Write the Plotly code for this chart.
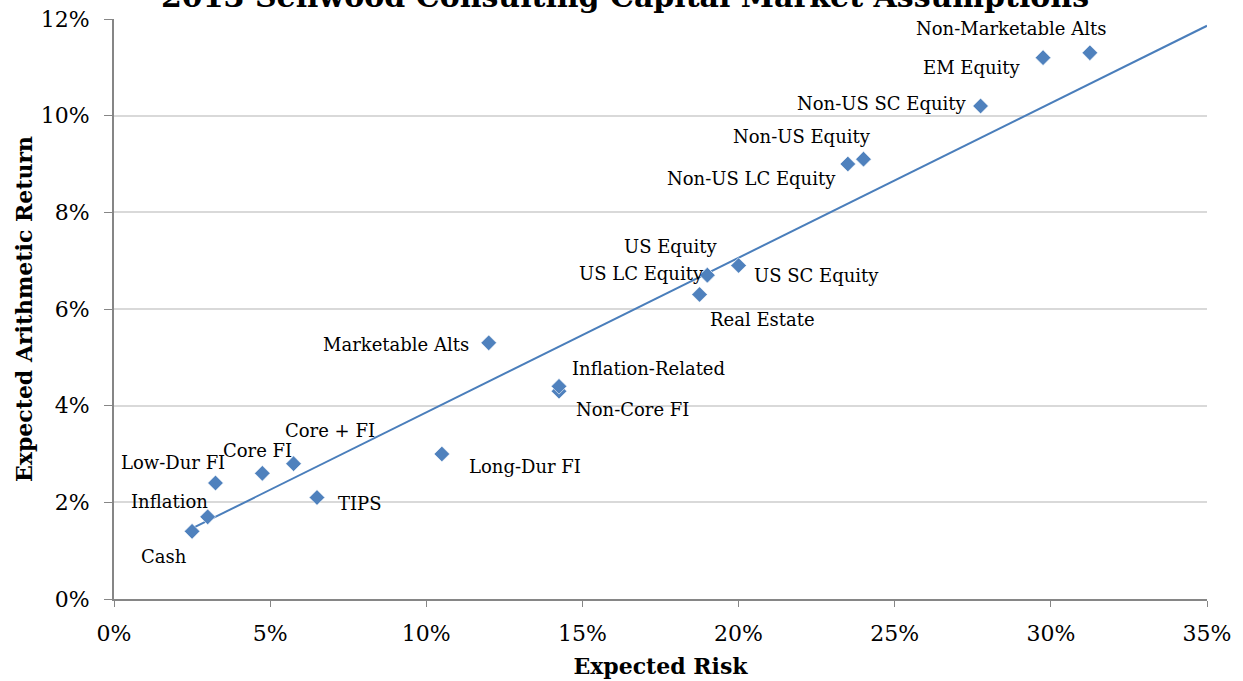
import plotly.graph_objects as go

names = ["Cash", "Inflation", "Low-Dur FI", "Core FI", "Core + FI", "TIPS", "Long-Dur FI",
         "Marketable Alts", "Non-Core FI", "Inflation-Related", "Real Estate", "US Equity",
         "US LC Equity", "US SC Equity", "Non-US LC Equity", "Non-US Equity",
         "Non-US SC Equity", "EM Equity", "Non-Marketable Alts"]
risk = [2.5, 3.0, 3.25, 4.75, 5.75, 6.5, 10.5, 12.0, 14.25, 14.25, 18.75, 19.0,
        19.0, 20.0, 23.5, 24.0, 27.75, 29.75, 31.25]
ret = [1.4, 1.7, 2.4, 2.6, 2.8, 2.1, 3.0, 5.3, 4.3, 4.4, 6.3, 6.7,
       6.7, 6.9, 9.0, 9.1, 10.2, 11.2, 11.3]

trend_x = [2.5, 35.0]
trend_y = [1.46, 11.86]

x_ticks = [0, 5, 10, 15, 20, 25, 30, 35]
y_ticks = [0, 2, 4, 6, 8, 10, 12]

# label offsets (pixels): style only
offsets = {
    "Cash": (-28, -25), "Inflation": (-38, 15), "Low-Dur FI": (-42, 21),
    "Core FI": (-5, 23), "Core + FI": (36, 33), "TIPS": (43, -6),
    "Long-Dur FI": (83, -12), "Marketable Alts": (-93, -2),
    "Non-Core FI": (73, -18), "Inflation-Related": (89, 18),
    "Real Estate": (63, -25), "US Equity": (-37, 29), "US LC Equity": (-66, 2),
    "US SC Equity": (78, -10), "Non-US LC Equity": (-96, -14),
    "Non-US Equity": (-61, 23), "Non-US SC Equity": (-99, 3),
    "EM Equity": (-71, -10), "Non-Marketable Alts": (-79, 24),
}

color = "#4f81bd"
serif = "DejaVu Serif"

fig = go.Figure()
fig.add_trace(go.Scatter(x=trend_x, y=trend_y, mode="lines",
                         line=dict(color="#4a7ebb", width=2), hoverinfo="skip",
                         showlegend=False))
fig.add_trace(go.Scatter(x=risk, y=ret, mode="markers",
                         marker=dict(symbol="diamond", size=12, color=color,
                                     line=dict(color="white", width=0.6)),
                         text=names, showlegend=False))

for n, xv, yv in zip(names, risk, ret):
    dx, dy = offsets[n]
    fig.add_annotation(x=xv, y=yv, text=n, showarrow=False, xshift=dx, yshift=dy,
                       font=dict(family=serif, size=18, color="#000000"))

fig.add_annotation(text="<b>2013 Sellwood Consulting Capital Market Assumptions</b>",
                   xref="paper", yref="paper", x=0.4675, y=1.0, yshift=3,
                   yanchor="bottom", showarrow=False,
                   font=dict(family=serif, size=30, color="#000000"))

fig.update_layout(
    width=1243, height=681,
    margin=dict(l=114, r=36, t=19, b=82),
    plot_bgcolor="white", paper_bgcolor="white",
    xaxis=dict(range=[0, 35], tickvals=x_ticks, automargin=False,
               ticktext=[f"{v}%" for v in x_ticks],
               showgrid=False, zeroline=False, showline=True,
               linecolor="#868686", linewidth=2, ticks="outside", ticklen=6,
               tickcolor="#868686", tickwidth=1, ticklabelstandoff=8,
               tickfont=dict(family=serif, size=22, color="#000000"),
               title=dict(text="<b>Expected Risk</b>", standoff=13,
                          font=dict(family=serif, size=22, color="#000000"))),
    yaxis=dict(range=[0, 12], tickvals=y_ticks, automargin=False,
               ticktext=[f"{v}%" for v in y_ticks],
               showgrid=True, gridcolor="#d9d9d9", gridwidth=1.5, zeroline=False,
               showline=True, linecolor="#868686", linewidth=2,
               ticks="outside", ticklen=8, tickcolor="#868686", tickwidth=1,
               ticklabelstandoff=10, ticklabeloverflow="allow",
               tickfont=dict(family=serif, size=22, color="#000000"),
               title=dict(text="<b>Expected Arithmetic Return</b>", standoff=2,
                          font=dict(family=serif, size=22, color="#000000"))),
)

fig.write_html("out.html", config={"displayModeBar": False},
               post_script="document.body.style.margin='0';")
